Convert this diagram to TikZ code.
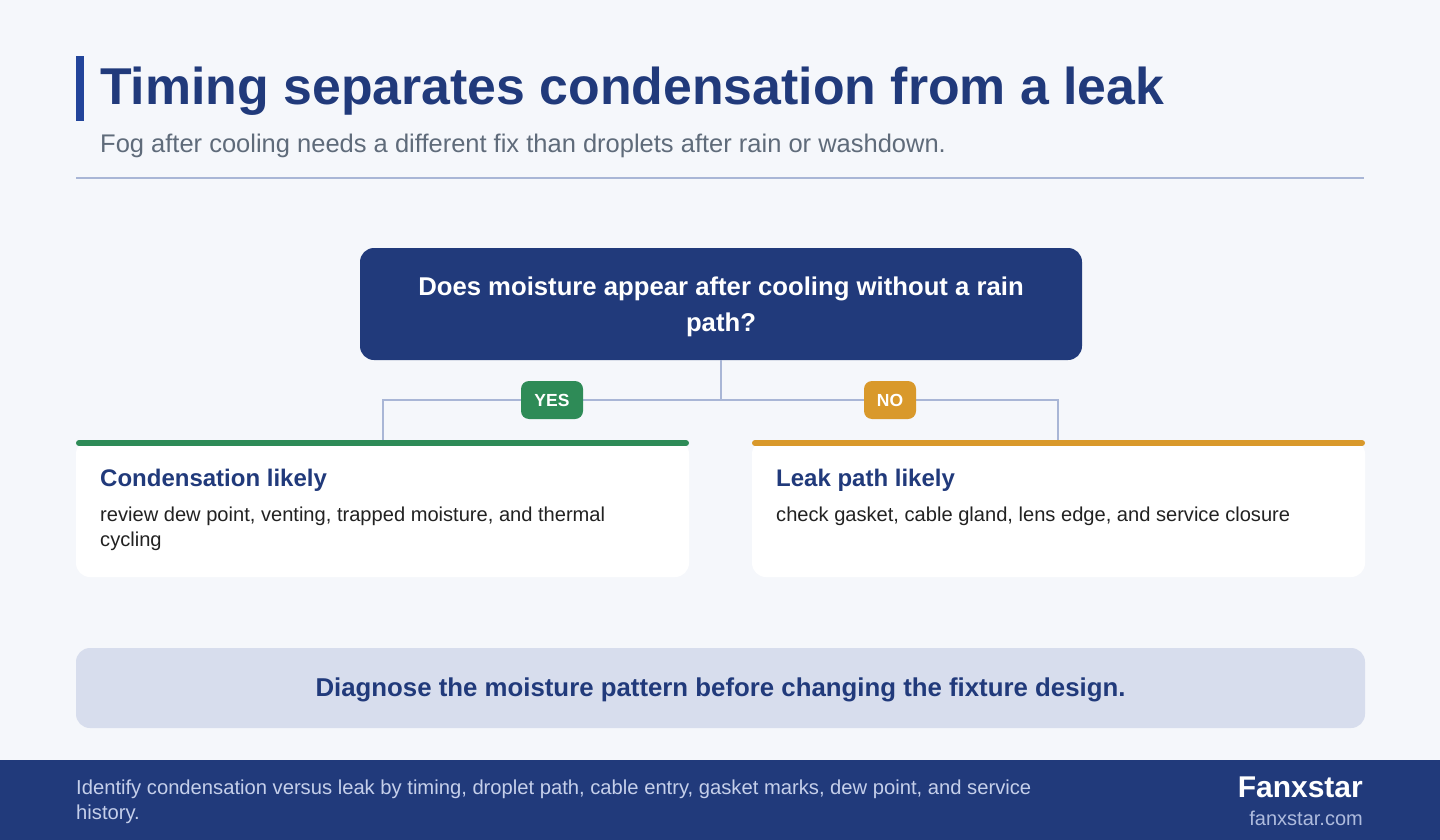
\documentclass[tikz,border=0pt]{standalone}
\usepackage{fontspec}
\setmainfont{Liberation Sans}
\definecolor{bg}{HTML}{F5F7FB}
\definecolor{navy}{HTML}{213A7B}
\definecolor{accent}{HTML}{22449A}
\definecolor{subgrey}{HTML}{5F6B7A}
\definecolor{rulec}{HTML}{A9B6D6}
\definecolor{yesg}{HTML}{2E8B57}
\definecolor{noo}{HTML}{D9992B}
\definecolor{bannerc}{HTML}{D7DDED}
\definecolor{bodyc}{HTML}{222222}
\definecolor{footc}{HTML}{C5CFEA}
\definecolor{urlc}{HTML}{AEBBDD}
\begin{document}
\begin{tikzpicture}[x=1pt,y=-1pt,
  conn/.style={draw=rulec,line width=2.5pt},
  badge/.style={rounded corners=8pt,minimum height=38pt,inner sep=0pt,text=white,font=\fontsize{17.5}{17.5}\selectfont\bfseries},
  card/.style={fill=white,rounded corners=14pt},
  cardtitle/.style={anchor=base west,inner sep=0pt,text=navy,font=\fontsize{24}{24}\selectfont\bfseries},
  cardbody/.style={anchor=north west,inner sep=0pt,text=bodyc,align=left,font=\fontsize{20.1}{25}\selectfont}]
\useasboundingbox (0,0) rectangle (1440,840);
\fill[bg] (0,0) rectangle (1440,840);
% header
\fill[accent] (76,56) rectangle (84,121);
\node[anchor=base west,inner sep=0pt,text=navy,font=\fontsize{51.8}{52}\selectfont\bfseries] (title) at (100,105) {Timing separates condensation from a leak};
\node[anchor=base west,inner sep=0pt,text=subgrey,font=\fontsize{25.5}{26}\selectfont] (sub) at (100,153) {Fog after cooling needs a different fix than droplets after rain or washdown.};
\draw[rulec,line width=2pt] (76,178) -- (1364,178);
% question
\node[fill=navy,rounded corners=14pt,minimum width=722pt,minimum height=112pt,inner sep=0pt] (q) at (721,304) {};
\node[inner sep=0pt,text=white,align=center,font=\fontsize{25.7}{36}\selectfont\bfseries] (qt) at (721,307) {Does moisture appear after cooling without a rain\\path?};
% cards
\fill[card] (76,440) rectangle (689,577);
\fill[card] (752,440) rectangle (1365,577);
\coordinate (lc) at (383,440);
\coordinate (rc) at (1058,440);
\coordinate (j) at (721,400);
\draw[conn] (q.south) -- (j) -- (383,400) -- (lc);
\draw[conn] (j) -- (1058,400) -- (rc);
\draw[yesg,line width=6pt,line cap=round] (79,443) -- (686,443);
\draw[noo,line width=6pt,line cap=round] (755,443) -- (1362,443);
\node[badge,fill=yesg,minimum width=62pt] (yes) at (552,400) {YES};
\node[badge,fill=noo,minimum width=52pt] (no) at (890,400) {NO};
\node[cardtitle] (lt) at (100,486) {Condensation likely};
\node[cardbody] (lb) at (100,507) {review dew point, venting, trapped moisture, and thermal\\cycling};
\node[cardtitle] (rt) at (776,486) {Leak path likely};
\node[cardbody] (rb) at (776,507) {check gasket, cable gland, lens edge, and service closure};
% banner
\fill[bannerc,rounded corners=14pt] (76,648) rectangle (1365,728);
\node[inner sep=0pt,text=navy,font=\fontsize{25.8}{26}\selectfont\bfseries] (ban) at (720.5,690) {Diagnose the moisture pattern before changing the fixture design.};
% footer
\fill[navy] (0,760) rectangle (1440,840);
\node[anchor=north west,inner sep=0pt,text=footc,align=left,font=\fontsize{20.2}{25}\selectfont] (ft) at (76,780) {Identify condensation versus leak by timing, droplet path, cable entry, gasket marks, dew point, and service\\history.};
\node[anchor=base east,inner sep=0pt,text=white,font=\fontsize{30}{30}\selectfont\bfseries] (brand) at (1363,797) {Fanxstar};
\node[anchor=base east,inner sep=0pt,text=urlc,font=\fontsize{20}{20}\selectfont] (url) at (1363,825) {fanxstar.com};
\end{tikzpicture}
\end{document}
